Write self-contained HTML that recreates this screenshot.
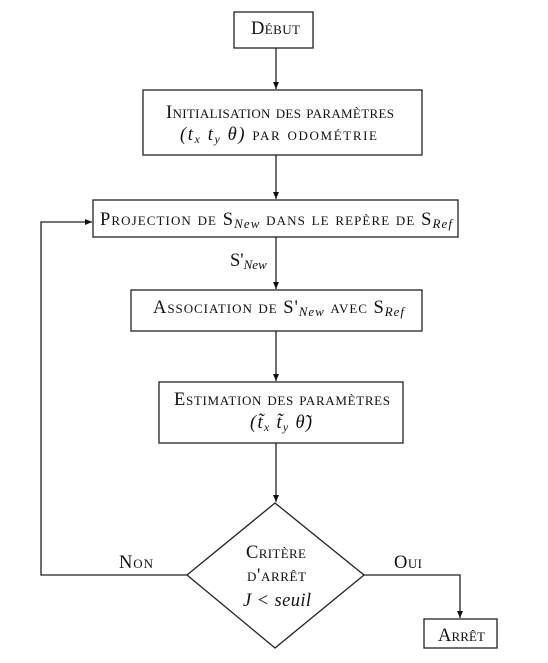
<!DOCTYPE html>
<html><head><meta charset="utf-8"><style>
body{margin:0;background:#fff}
svg text{font-family:"Liberation Serif",serif;font-size:18.5px;fill:#111}
.sc{font-variant:small-caps}
</style></head><body>
<svg width="548" height="658" viewBox="0 0 548 658" xmlns="http://www.w3.org/2000/svg">
<defs><marker id="a" markerWidth="8" markerHeight="8" refX="7" refY="4" orient="auto" markerUnits="userSpaceOnUse"><path d="M0,1 L7,4 L0,7z" fill="#111"/></marker></defs>
<g fill="none" stroke="#222" stroke-width="1.3">
<rect x="234" y="12" width="79" height="36"/>
<rect x="143" y="90" width="279" height="65"/>
<rect x="93" y="200" width="365" height="37"/>
<rect x="131" y="290" width="291" height="41"/>
<rect x="159" y="382" width="244" height="61"/>
<polygon points="275,503 364,575 275,648 187,575"/>
<rect x="424" y="619" width="73" height="29"/>
<line x1="276" y1="48" x2="276" y2="89" marker-end="url(#a)"/>
<line x1="276" y1="155" x2="276" y2="199" marker-end="url(#a)"/>
<line x1="276" y1="237" x2="276" y2="289" marker-end="url(#a)"/>
<line x1="276" y1="331" x2="276" y2="381" marker-end="url(#a)"/>
<line x1="276" y1="443" x2="276" y2="502" marker-end="url(#a)"/>
<polyline points="187,575 41,575 41,222 92,222" marker-end="url(#a)"/>
<polyline points="364,575 460,575 460,618" marker-end="url(#a)"/>
</g>
<text x="251" y="34" class="sc" textLength="49" lengthAdjust="spacing">Début</text>
<text x="166" y="118" class="sc" textLength="228" lengthAdjust="spacing">Initialisation des paramètres</text>
<text x="180" y="140" textLength="197" lengthAdjust="spacing"><tspan font-style="italic">(t</tspan><tspan font-size="12" dy="3" font-style="italic">x</tspan><tspan dy="-3" font-style="italic">  t</tspan><tspan font-size="12" dy="3" font-style="italic">y</tspan><tspan dy="-3" font-style="italic">  θ)</tspan><tspan class="sc"> par odométrie</tspan></text>
<text x="100" y="225" textLength="352" lengthAdjust="spacing"><tspan class="sc">Projection de </tspan> S<tspan font-size="13" dy="3" font-style="italic">New</tspan><tspan dy="-3" class="sc"> dans le repère de </tspan> S<tspan font-size="13" dy="3" font-style="italic">Ref</tspan></text>
<text x="230" y="266">S'<tspan font-size="13" dy="3" font-style="italic">New</tspan></text>
<text x="153" y="313" textLength="251" lengthAdjust="spacing"><tspan class="sc">Association de </tspan> S'<tspan font-size="13" dy="3" font-style="italic">New</tspan><tspan dy="-3" class="sc"> avec </tspan> S<tspan font-size="13" dy="3" font-style="italic">Ref</tspan></text>
<text x="174" y="405" class="sc" textLength="216" lengthAdjust="spacing">Estimation des paramètres</text>
<text x="250" y="428" font-style="italic" textLength="62" lengthAdjust="spacing">(t̃<tspan font-size="12" dy="3">x</tspan><tspan dy="-3">  t̃</tspan><tspan font-size="12" dy="3">y</tspan><tspan dy="-3">  θ̃)</tspan></text>
<text x="246" y="558" class="sc" textLength="60" lengthAdjust="spacing">Critère</text>
<text x="247" y="581" class="sc" textLength="59" lengthAdjust="spacing">d'arrêt</text>
<text x="243" y="606" font-style="italic" textLength="68" lengthAdjust="spacing">J &lt; seuil</text>
<text x="119" y="568" class="sc" textLength="34" lengthAdjust="spacing">Non</text>
<text x="394" y="568" class="sc" textLength="28" lengthAdjust="spacing">Oui</text>
<text x="438" y="641" class="sc" textLength="47" lengthAdjust="spacing">Arrêt</text>
</svg>
</body></html>
